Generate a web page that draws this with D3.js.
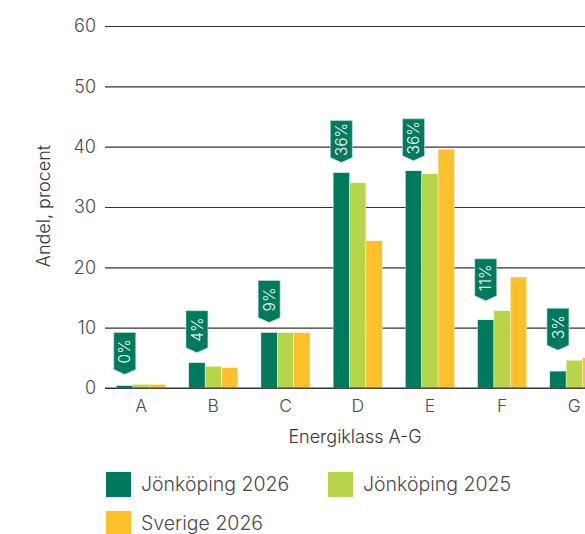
<!DOCTYPE html>
<html>
<head>
<meta charset="utf-8">
<script src="https://cdn.jsdelivr.net/npm/d3@7"></script>
<style>
  html, body { margin: 0; padding: 0; background: #fff; overflow: hidden; }
  svg { display: block; font-family: Inter, "Liberation Sans", Arial, sans-serif; font-weight: 300; }
</style>
</head>
<body>
<svg id="chart" width="585" height="534"></svg>
<script>
// Energy class distribution (share of buildings, percent)
const categories = ["A", "B", "C", "D", "E", "F", "G"];
const seriesNames = ["Jönköping 2026", "Jönköping 2025", "Sverige 2026"];
const jonkoping2026 = [0.4, 4.2, 9.2, 35.7, 36.0, 11.3, 2.8];
const jonkoping2025 = [0.6, 3.6, 9.2, 34.0, 35.5, 12.8, 4.6];
const sverige2026   = [0.6, 3.4, 9.2, 24.4, 39.6, 18.4, 5.0];
const yTicks = [0, 10, 20, 30, 40, 50, 60];
const colors = ["#007A5C", "#B6D54A", "#FEC12C"];

const series = [jonkoping2026, jonkoping2025, sverige2026];

const svg = d3.select("#chart");
const textColor = "#4a4a4a";

const x = d3.scaleBand()
  .domain(categories)
  .range([105, 610.4])
  .paddingInner(0.32)
  .paddingOuter(0.16);

const xSub = d3.scaleBand()
  .domain(seriesNames)
  .range([0, x.bandwidth()]);

const y = d3.scaleLinear().domain([0, 60]).range([388, 26]);

// Horizontal gridlines with value labels
const yAxis = d3.axisLeft(y)
  .tickValues(yTicks)
  .tickSize(-(610 - 105))
  .tickPadding(9);

const gy = svg.append("g")
  .attr("transform", "translate(105,0)")
  .call(yAxis);
gy.select(".domain").remove();
gy.selectAll(".tick line").attr("stroke", "#333").attr("stroke-width", 1.2);
gy.selectAll(".tick text")
  .attr("fill", textColor)
  .attr("font-size", 18)
  .attr("x", -9);

// Category labels
const xAxis = d3.axisBottom(x).tickSize(0).tickPadding(12);
const gx = svg.append("g")
  .attr("transform", "translate(0,388)")
  .call(xAxis);
gx.select(".domain").remove();
gx.selectAll(".tick text")
  .attr("fill", textColor)
  .attr("font-size", 17.5);
gy.attr("font-family", null).attr("font-size", null);
gx.attr("font-family", null).attr("font-size", null);

// Bars
const groups = svg.append("g")
  .selectAll("g")
  .data(categories)
  .join("g")
  .attr("transform", d => `translate(${x(d)},0)`);

groups.selectAll("rect")
  .data((c, i) => seriesNames.map((s, k) => ({ s, k, v: series[k][i] })))
  .join("rect")
  .attr("x", d => xSub(d.s))
  .attr("width", xSub.bandwidth())
  .attr("y", d => y(d.v))
  .attr("height", d => y(0) - y(d.v))
  .attr("fill", d => colors[d.k])
  .attr("stroke", "#fff")
  .attr("stroke-width", 0.4);

// Zero line
svg.append("line")
  .attr("x1", 105).attr("x2", 610)
  .attr("y1", y(0)).attr("y2", y(0))
  .attr("stroke", "#333").attr("stroke-width", 1.2);

// Value tags for Jönköping 2026
const tagW = 22, tagRect = 37, tagPoint = 5, tagGap = 10;
const tags = svg.append("g")
  .selectAll("g")
  .data(categories.map((c, i) => ({
    c,
    v: jonkoping2026[i],
    top: y(Math.max(jonkoping2026[i], jonkoping2025[i]))
  })))
  .join("g")
  .attr("transform", d => {
    const cx = x(d.c) + xSub(seriesNames[0]) + xSub.bandwidth() / 2;
    const tipY = d.top - tagGap;
    return `translate(${cx},${tipY - tagPoint - tagRect})`;
  });

tags.append("path")
  .attr("d", `M${-tagW / 2},0 H${tagW / 2} V${tagRect} L0,${tagRect + tagPoint} L${-tagW / 2},${tagRect} Z`)
  .attr("fill", colors[0])
  .attr("stroke", "#cfe3dc")
  .attr("stroke-width", 0.6);

tags.append("text")
  .attr("transform", `translate(0,${tagRect / 2 + 0.5}) rotate(-90)`)
  .attr("text-anchor", "middle")
  .attr("dy", "0.36em")
  .attr("fill", "#fff")
  .attr("font-size", 15.5)
  .attr("font-weight", 300)
  .text(d => `${Math.round(d.v)}%`);

// Axis titles
svg.append("text")
  .attr("transform", "translate(50,206) rotate(-90)")
  .attr("text-anchor", "middle")
  .attr("fill", "#333")
  .attr("font-size", 18)
  .text("Andel, procent");

svg.append("text")
  .attr("x", 355)
  .attr("y", 443)
  .attr("text-anchor", "middle")
  .attr("fill", "#333")
  .attr("font-size", 18)
  .text("Energiklass A-G");

// Legend
const legendItems = [
  { name: seriesNames[0], color: colors[0], x: 106, y: 472 },
  { name: seriesNames[1], color: colors[1], x: 328, y: 472 },
  { name: seriesNames[2], color: colors[2], x: 106, y: 511 }
];
const legend = svg.append("g")
  .selectAll("g")
  .data(legendItems)
  .join("g")
  .attr("transform", d => `translate(${d.x},${d.y})`);
legend.append("rect")
  .attr("width", 25).attr("height", 25)
  .attr("fill", d => d.color);
legend.append("text")
  .attr("x", 35).attr("y", 11.5)
  .attr("dy", "0.36em")
  .attr("fill", textColor)
  .attr("font-size", 19.5)
  .text(d => d.name);
</script>
</body>
</html>
